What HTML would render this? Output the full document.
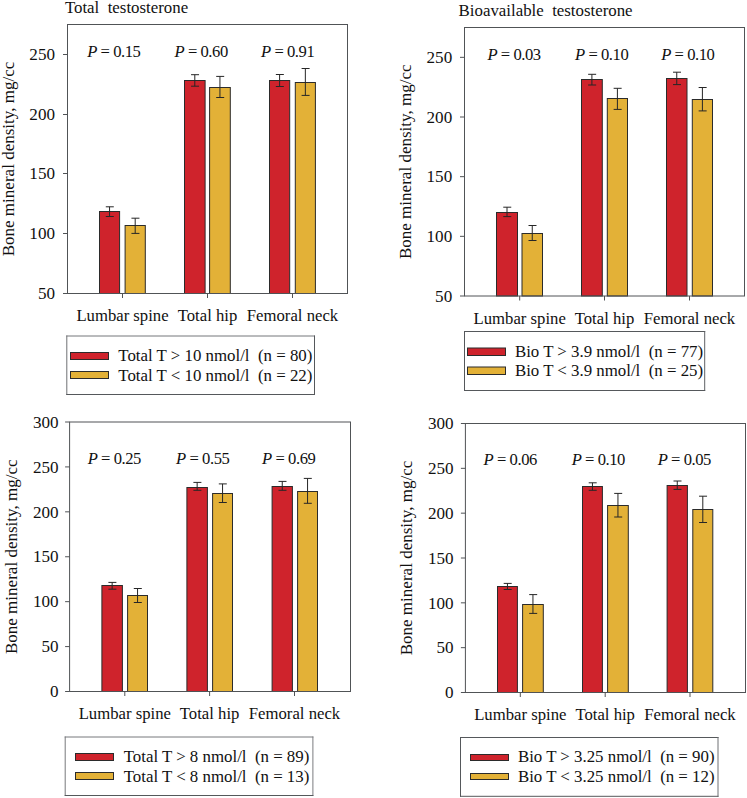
<!DOCTYPE html><html><head><meta charset="utf-8"><style>html,body{margin:0;padding:0;background:#fff;overflow:hidden}svg{display:block}text{font-family:"Liberation Serif",serif;font-size:16.7px;fill:#111;white-space:pre}.tk{font-size:17.1px}.pv{font-size:16.6px;letter-spacing:-0.45px}.yl{font-size:17.05px}.tt{font-size:16.85px}.lg{font-size:16.85px}</style></head><body>
<svg width="747" height="798" viewBox="0 0 747 798">
<rect width="747" height="798" fill="#fff"/>
<rect x="99.5" y="211.5" width="20.10" height="82.00" fill="#cf232c" stroke="#2b2b2b" stroke-width="1"/>
<rect x="125.1" y="225.5" width="20.20" height="68.00" fill="#e3b137" stroke="#2b2b2b" stroke-width="1"/>
<rect x="184.5" y="80.5" width="20.60" height="213.00" fill="#cf232c" stroke="#2b2b2b" stroke-width="1"/>
<rect x="209.6" y="87.5" width="20.70" height="206.00" fill="#e3b137" stroke="#2b2b2b" stroke-width="1"/>
<rect x="269.5" y="80.5" width="20.20" height="213.00" fill="#cf232c" stroke="#2b2b2b" stroke-width="1"/>
<rect x="295.3" y="82.5" width="20.10" height="211.00" fill="#e3b137" stroke="#2b2b2b" stroke-width="1"/>
<path d="M109.55 206.80V216.50M105.80 206.80H113.80M105.80 216.50H113.80" stroke="#262626" stroke-width="1" fill="none"/>
<path d="M135.20 218.20V233.40M131.45 218.20H139.45M131.45 233.40H139.45" stroke="#262626" stroke-width="1" fill="none"/>
<path d="M194.80 74.70V86.20M191.05 74.70H199.05M191.05 86.20H199.05" stroke="#262626" stroke-width="1" fill="none"/>
<path d="M219.95 76.40V97.50M216.20 76.40H224.20M216.20 97.50H224.20" stroke="#262626" stroke-width="1" fill="none"/>
<path d="M279.60 74.50V86.50M275.85 74.50H283.85M275.85 86.50H283.85" stroke="#262626" stroke-width="1" fill="none"/>
<path d="M305.35 68.50V95.40M301.60 68.50H309.60M301.60 95.40H309.60" stroke="#262626" stroke-width="1" fill="none"/>
<rect x="67.50" y="24.50" width="280.00" height="269.00" fill="none" stroke="#505356" stroke-width="1"/>
<path d="M63.00 293.50H67.50" stroke="#505356" stroke-width="1"/>
<text x="55.00" y="299.20" text-anchor="end" class="tk">50</text>
<path d="M63.00 233.50H67.50" stroke="#505356" stroke-width="1"/>
<text x="55.00" y="239.20" text-anchor="end" class="tk">100</text>
<path d="M63.00 173.50H67.50" stroke="#505356" stroke-width="1"/>
<text x="55.00" y="179.20" text-anchor="end" class="tk">150</text>
<path d="M63.00 114.50H67.50" stroke="#505356" stroke-width="1"/>
<text x="55.00" y="120.20" text-anchor="end" class="tk">200</text>
<path d="M63.00 54.50H67.50" stroke="#505356" stroke-width="1"/>
<text x="55.00" y="60.20" text-anchor="end" class="tk">250</text>
<path d="M122.50 293.50V298.00" stroke="#505356" stroke-width="1"/>
<path d="M207.50 293.50V298.00" stroke="#505356" stroke-width="1"/>
<path d="M292.50 293.50V298.00" stroke="#505356" stroke-width="1"/>
<text x="122.50" y="320.90" text-anchor="middle">Lumbar spine</text>
<text x="207.50" y="320.90" text-anchor="middle">Total hip</text>
<text x="292.50" y="320.90" text-anchor="middle">Femoral neck</text>
<text x="87.20" y="57.30" class="pv"><tspan font-style="italic">P</tspan> = 0.15</text>
<text x="174.50" y="57.30" class="pv"><tspan font-style="italic">P</tspan> = 0.60</text>
<text x="261.00" y="57.30" class="pv"><tspan font-style="italic">P</tspan> = 0.91</text>
<text x="64.90" y="13.10" class="tt">Total  testosterone</text>
<text transform="translate(13.90 159.00) rotate(-90)" x="0" y="0" text-anchor="middle" class="yl">Bone mineral density, mg/cc</text>
<path d="M66.80 335.50V395.00" stroke="#6e7174" stroke-width="1"/>
<path d="M66.30 336.00H315.00" stroke="#74777a" stroke-width="1"/>
<path d="M314.50 335.50V395.00" stroke="#55585b" stroke-width="1"/>
<path d="M66.30 394.50H315.00" stroke="#55585b" stroke-width="1"/>
<rect x="70.5" y="352.5" width="38" height="7" fill="#cf232c" stroke="#2b2b2b" stroke-width="1"/>
<text x="118.30" y="361.40" class="lg">Total T &gt; 10 nmol/l  (n = 80)</text>
<rect x="70.5" y="371.5" width="38" height="7" fill="#e3b137" stroke="#2b2b2b" stroke-width="1"/>
<text x="118.30" y="380.50" class="lg">Total T &lt; 10 nmol/l  (n = 22)</text>
<rect x="496.5" y="212.5" width="21.00" height="83.50" fill="#cf232c" stroke="#2b2b2b" stroke-width="1"/>
<rect x="522.0" y="233.5" width="20.50" height="62.50" fill="#e3b137" stroke="#2b2b2b" stroke-width="1"/>
<rect x="581.5" y="79.5" width="20.80" height="216.50" fill="#cf232c" stroke="#2b2b2b" stroke-width="1"/>
<rect x="607.3" y="98.5" width="20.20" height="197.50" fill="#e3b137" stroke="#2b2b2b" stroke-width="1"/>
<rect x="666.5" y="78.5" width="20.50" height="217.50" fill="#cf232c" stroke="#2b2b2b" stroke-width="1"/>
<rect x="692.3" y="99.5" width="20.20" height="196.50" fill="#e3b137" stroke="#2b2b2b" stroke-width="1"/>
<path d="M507.00 207.20V216.60M503.25 207.20H511.25M503.25 216.60H511.25" stroke="#262626" stroke-width="1" fill="none"/>
<path d="M532.25 225.50V240.50M528.50 225.50H536.50M528.50 240.50H536.50" stroke="#262626" stroke-width="1" fill="none"/>
<path d="M591.90 74.30V85.00M588.15 74.30H596.15M588.15 85.00H596.15" stroke="#262626" stroke-width="1" fill="none"/>
<path d="M617.40 88.30V109.40M613.65 88.30H621.65M613.65 109.40H621.65" stroke="#262626" stroke-width="1" fill="none"/>
<path d="M676.75 72.20V84.60M673.00 72.20H681.00M673.00 84.60H681.00" stroke="#262626" stroke-width="1" fill="none"/>
<path d="M702.40 87.50V110.90M698.65 87.50H706.65M698.65 110.90H706.65" stroke="#262626" stroke-width="1" fill="none"/>
<rect x="464.50" y="27.50" width="280.00" height="268.50" fill="none" stroke="#505356" stroke-width="1"/>
<path d="M460.00 296.00H464.50" stroke="#505356" stroke-width="1"/>
<text x="452.20" y="301.70" text-anchor="end" class="tk">50</text>
<path d="M460.00 236.33H464.50" stroke="#505356" stroke-width="1"/>
<text x="452.20" y="242.03" text-anchor="end" class="tk">100</text>
<path d="M460.00 176.67H464.50" stroke="#505356" stroke-width="1"/>
<text x="452.20" y="182.37" text-anchor="end" class="tk">150</text>
<path d="M460.00 117.00H464.50" stroke="#505356" stroke-width="1"/>
<text x="452.20" y="122.70" text-anchor="end" class="tk">200</text>
<path d="M460.00 57.33H464.50" stroke="#505356" stroke-width="1"/>
<text x="452.20" y="63.03" text-anchor="end" class="tk">250</text>
<path d="M519.70 296.00V300.50" stroke="#505356" stroke-width="1"/>
<path d="M604.50 296.00V300.50" stroke="#505356" stroke-width="1"/>
<path d="M689.50 296.00V300.50" stroke="#505356" stroke-width="1"/>
<text x="519.70" y="323.60" text-anchor="middle">Lumbar spine</text>
<text x="604.50" y="323.60" text-anchor="middle">Total hip</text>
<text x="689.50" y="323.60" text-anchor="middle">Femoral neck</text>
<text x="487.40" y="59.80" class="pv"><tspan font-style="italic">P</tspan> = 0.03</text>
<text x="575.00" y="59.80" class="pv"><tspan font-style="italic">P</tspan> = 0.10</text>
<text x="661.20" y="59.80" class="pv"><tspan font-style="italic">P</tspan> = 0.10</text>
<text x="458.60" y="15.80" class="tt">Bioavailable  testosterone</text>
<text transform="translate(411.00 161.75) rotate(-90)" x="0" y="0" text-anchor="middle" class="yl">Bone mineral density, mg/cc</text>
<path d="M464.50 331.00V391.00" stroke="#55585b" stroke-width="1"/>
<path d="M464.00 331.50H705.20" stroke="#55585b" stroke-width="1"/>
<path d="M704.70 331.00V391.00" stroke="#5e6164" stroke-width="1"/>
<path d="M464.00 390.50H705.20" stroke="#55585b" stroke-width="1"/>
<rect x="467.5" y="348.0" width="38" height="7.5" fill="#cf232c" stroke="#2b2b2b" stroke-width="1"/>
<text x="514.90" y="356.80" class="lg">Bio T &gt; 3.9 nmol/l  (n = 77)</text>
<rect x="467.5" y="367.0" width="38" height="7.5" fill="#e3b137" stroke="#2b2b2b" stroke-width="1"/>
<text x="514.90" y="375.80" class="lg">Bio T &lt; 3.9 nmol/l  (n = 25)</text>
<rect x="101.9" y="585.5" width="20.50" height="106.00" fill="#cf232c" stroke="#2b2b2b" stroke-width="1"/>
<rect x="127.6" y="595.5" width="19.90" height="96.00" fill="#e3b137" stroke="#2b2b2b" stroke-width="1"/>
<rect x="186.9" y="487.5" width="20.50" height="204.00" fill="#cf232c" stroke="#2b2b2b" stroke-width="1"/>
<rect x="212.6" y="493.5" width="19.90" height="198.00" fill="#e3b137" stroke="#2b2b2b" stroke-width="1"/>
<rect x="272.1" y="486.5" width="20.30" height="205.00" fill="#cf232c" stroke="#2b2b2b" stroke-width="1"/>
<rect x="297.6" y="491.5" width="19.90" height="200.00" fill="#e3b137" stroke="#2b2b2b" stroke-width="1"/>
<path d="M112.15 582.40V589.20M108.40 582.40H116.40M108.40 589.20H116.40" stroke="#262626" stroke-width="1" fill="none"/>
<path d="M137.55 588.50V602.50M133.80 588.50H141.80M133.80 602.50H141.80" stroke="#262626" stroke-width="1" fill="none"/>
<path d="M197.15 482.40V490.30M193.40 482.40H201.40M193.40 490.30H201.40" stroke="#262626" stroke-width="1" fill="none"/>
<path d="M222.55 483.90V502.50M218.80 483.90H226.80M218.80 502.50H226.80" stroke="#262626" stroke-width="1" fill="none"/>
<path d="M282.25 481.40V490.30M278.50 481.40H286.50M278.50 490.30H286.50" stroke="#262626" stroke-width="1" fill="none"/>
<path d="M307.55 478.40V503.30M303.80 478.40H311.80M303.80 503.30H311.80" stroke="#262626" stroke-width="1" fill="none"/>
<rect x="69.60" y="422.00" width="280.90" height="269.50" fill="none" stroke="#505356" stroke-width="1"/>
<path d="M65.10 691.50H69.60" stroke="#505356" stroke-width="1"/>
<text x="58.60" y="697.20" text-anchor="end" class="tk">0</text>
<path d="M65.10 646.58H69.60" stroke="#505356" stroke-width="1"/>
<text x="58.60" y="652.28" text-anchor="end" class="tk">50</text>
<path d="M65.10 601.67H69.60" stroke="#505356" stroke-width="1"/>
<text x="58.60" y="607.37" text-anchor="end" class="tk">100</text>
<path d="M65.10 556.75H69.60" stroke="#505356" stroke-width="1"/>
<text x="58.60" y="562.45" text-anchor="end" class="tk">150</text>
<path d="M65.10 511.83H69.60" stroke="#505356" stroke-width="1"/>
<text x="58.60" y="517.53" text-anchor="end" class="tk">200</text>
<path d="M65.10 466.92H69.60" stroke="#505356" stroke-width="1"/>
<text x="58.60" y="472.62" text-anchor="end" class="tk">250</text>
<path d="M65.10 422.00H69.60" stroke="#505356" stroke-width="1"/>
<text x="58.60" y="427.70" text-anchor="end" class="tk">300</text>
<path d="M124.80 691.50V696.00" stroke="#505356" stroke-width="1"/>
<path d="M209.60 691.50V696.00" stroke="#505356" stroke-width="1"/>
<path d="M294.50 691.50V696.00" stroke="#505356" stroke-width="1"/>
<text x="124.80" y="718.50" text-anchor="middle">Lumbar spine</text>
<text x="209.60" y="718.50" text-anchor="middle">Total hip</text>
<text x="294.50" y="718.50" text-anchor="middle">Femoral neck</text>
<text x="87.70" y="463.60" class="pv"><tspan font-style="italic">P</tspan> = 0.25</text>
<text x="176.10" y="463.60" class="pv"><tspan font-style="italic">P</tspan> = 0.55</text>
<text x="262.10" y="463.60" class="pv"><tspan font-style="italic">P</tspan> = 0.69</text>
<text transform="translate(16.70 556.75) rotate(-90)" x="0" y="0" text-anchor="middle" class="yl">Bone mineral density, mg/cc</text>
<path d="M65.20 736.50V796.00" stroke="#77797c" stroke-width="1"/>
<path d="M64.70 737.00H313.40" stroke="#77797c" stroke-width="1"/>
<path d="M312.90 736.50V796.00" stroke="#7a7c7f" stroke-width="1"/>
<path d="M64.70 795.50H313.40" stroke="#55585b" stroke-width="1"/>
<rect x="75.5" y="753.5" width="38" height="7" fill="#cf232c" stroke="#2b2b2b" stroke-width="1"/>
<text x="123.70" y="762.10" class="lg">Total T &gt; 8 nmol/l  (n = 89)</text>
<rect x="75.5" y="772.5" width="38" height="7" fill="#e3b137" stroke="#2b2b2b" stroke-width="1"/>
<text x="123.70" y="781.50" class="lg">Total T &lt; 8 nmol/l  (n = 13)</text>
<rect x="497.5" y="586.5" width="19.90" height="106.00" fill="#cf232c" stroke="#2b2b2b" stroke-width="1"/>
<rect x="522.6" y="604.5" width="20.70" height="88.00" fill="#e3b137" stroke="#2b2b2b" stroke-width="1"/>
<rect x="582.5" y="486.5" width="19.90" height="206.00" fill="#cf232c" stroke="#2b2b2b" stroke-width="1"/>
<rect x="607.6" y="505.5" width="20.70" height="187.00" fill="#e3b137" stroke="#2b2b2b" stroke-width="1"/>
<rect x="667.1" y="485.5" width="20.30" height="207.00" fill="#cf232c" stroke="#2b2b2b" stroke-width="1"/>
<rect x="692.8" y="509.5" width="20.00" height="183.00" fill="#e3b137" stroke="#2b2b2b" stroke-width="1"/>
<path d="M507.45 583.40V589.50M503.70 583.40H511.70M503.70 589.50H511.70" stroke="#262626" stroke-width="1" fill="none"/>
<path d="M532.95 594.60V613.40M529.20 594.60H537.20M529.20 613.40H537.20" stroke="#262626" stroke-width="1" fill="none"/>
<path d="M592.45 482.80V490.30M588.70 482.80H596.70M588.70 490.30H596.70" stroke="#262626" stroke-width="1" fill="none"/>
<path d="M617.95 493.40V517.00M614.20 493.40H622.20M614.20 517.00H622.20" stroke="#262626" stroke-width="1" fill="none"/>
<path d="M677.25 481.00V489.40M673.50 481.00H681.50M673.50 489.40H681.50" stroke="#262626" stroke-width="1" fill="none"/>
<path d="M702.80 496.20V522.50M699.05 496.20H707.05M699.05 522.50H707.05" stroke="#262626" stroke-width="1" fill="none"/>
<rect x="465.40" y="423.50" width="280.10" height="269.00" fill="none" stroke="#505356" stroke-width="1"/>
<path d="M460.90 692.50H465.40" stroke="#505356" stroke-width="1"/>
<text x="453.60" y="698.20" text-anchor="end" class="tk">0</text>
<path d="M460.90 647.67H465.40" stroke="#505356" stroke-width="1"/>
<text x="453.60" y="653.37" text-anchor="end" class="tk">50</text>
<path d="M460.90 602.83H465.40" stroke="#505356" stroke-width="1"/>
<text x="453.60" y="608.53" text-anchor="end" class="tk">100</text>
<path d="M460.90 558.00H465.40" stroke="#505356" stroke-width="1"/>
<text x="453.60" y="563.70" text-anchor="end" class="tk">150</text>
<path d="M460.90 513.17H465.40" stroke="#505356" stroke-width="1"/>
<text x="453.60" y="518.87" text-anchor="end" class="tk">200</text>
<path d="M460.90 468.33H465.40" stroke="#505356" stroke-width="1"/>
<text x="453.60" y="474.03" text-anchor="end" class="tk">250</text>
<path d="M460.90 423.50H465.40" stroke="#505356" stroke-width="1"/>
<text x="453.60" y="429.20" text-anchor="end" class="tk">300</text>
<path d="M520.30 692.50V697.00" stroke="#505356" stroke-width="1"/>
<path d="M605.20 692.50V697.00" stroke="#505356" stroke-width="1"/>
<path d="M690.00 692.50V697.00" stroke="#505356" stroke-width="1"/>
<text x="520.30" y="720.00" text-anchor="middle">Lumbar spine</text>
<text x="605.20" y="720.00" text-anchor="middle">Total hip</text>
<text x="690.00" y="720.00" text-anchor="middle">Femoral neck</text>
<text x="483.60" y="464.50" class="pv"><tspan font-style="italic">P</tspan> = 0.06</text>
<text x="571.70" y="464.50" class="pv"><tspan font-style="italic">P</tspan> = 0.10</text>
<text x="657.70" y="464.50" class="pv"><tspan font-style="italic">P</tspan> = 0.05</text>
<text transform="translate(411.90 558.00) rotate(-90)" x="0" y="0" text-anchor="middle" class="yl">Bone mineral density, mg/cc</text>
<path d="M460.50 737.00V796.80" stroke="#55585b" stroke-width="1"/>
<path d="M460.00 737.50H718.50" stroke="#55585b" stroke-width="1"/>
<path d="M718.00 737.00V796.80" stroke="#6e7174" stroke-width="1"/>
<path d="M460.00 796.30H718.50" stroke="#55585b" stroke-width="1"/>
<rect x="470.5" y="754.5" width="38" height="6" fill="#cf232c" stroke="#2b2b2b" stroke-width="1"/>
<text x="517.90" y="762.40" class="lg">Bio T &gt; 3.25 nmol/l  (n = 90)</text>
<rect x="470.5" y="773.5" width="38" height="6" fill="#e3b137" stroke="#2b2b2b" stroke-width="1"/>
<text x="517.90" y="781.50" class="lg">Bio T &lt; 3.25 nmol/l  (n = 12)</text>
</svg></body></html>
